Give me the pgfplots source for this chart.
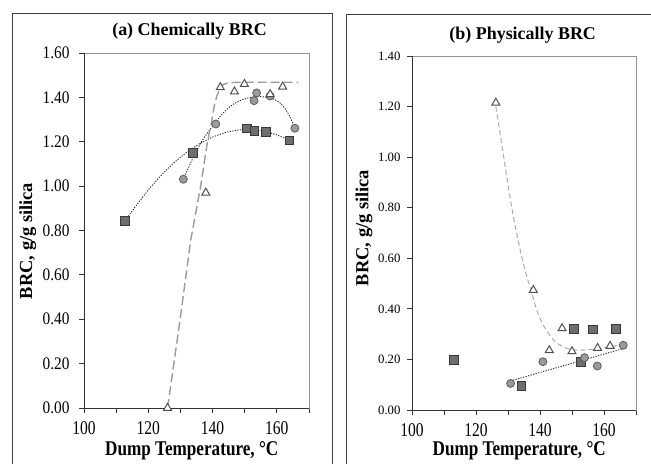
\documentclass[border=0pt]{standalone}
\usepackage{pgfplots}
\pgfplotsset{compat=1.18}
\usepackage{fontspec}
\setmainfont{Liberation Serif}
\newfontfamily\ytickA[FakeStretch=0.87]{Liberation Serif}
\newfontfamily\xtickf[FakeStretch=0.8]{Liberation Serif}
\newfontfamily\xlabf[FakeStretch=0.82]{Liberation Serif}
\definecolor{sqfill}{HTML}{6E6E6E}
\definecolor{sqedge}{HTML}{383838}
\definecolor{cifill}{HTML}{9A9A9A}
\definecolor{ciedge}{HTML}{5C5C5C}
\definecolor{triedge}{HTML}{505050}
\definecolor{dashc}{HTML}{9A9A9A}
\pgfplotsset{
  brc/.style={
    scale only axis, anchor=south west,
    xmin=100, xmax=170, ymin=0,
    xtick={100,120,140,160}, minor xtick={110,130,150,170},
    tick pos=left, tick align=outside,
    major tick length=5bp, minor tick length=5bp,
    axis line style={draw=gray!85, line width=0.8bp},
    tick style={black!80, line width=0.8bp},
    /pgf/number format/assume math mode=true,
    xticklabel style={font=\xtickf\fontsize{19.5}{20}\selectfont, yshift=-5.5bp},
    yticklabel style={/pgf/number format/fixed, /pgf/number format/fixed zerofill, /pgf/number format/precision=2},
    clip=false,
  },
  sq/.style={only marks, mark=square*, mark size=4.4bp, mark options={fill=sqfill, draw=sqedge, line width=0.8bp}},
  ci/.style={only marks, mark=*, mark size=4bp, mark options={fill=cifill, draw=ciedge, line width=0.8bp}},
  tri/.style={only marks, mark=triangle*, mark size=4.6bp, mark options={fill=white, draw=triedge, line width=1bp}},
  dotl/.style={no marks, black!85, line width=0.9bp, dash pattern=on 1.2bp off 1.4bp},
}
\begin{document}
\begin{tikzpicture}[x=1bp,y=1bp]
\useasboundingbox (0,0) rectangle (651,464);
\draw[black!75, line width=0.9bp] (12,-20) -- (12,451) -- (332,451) -- (332,-20);
\draw[black!75, line width=0.9bp] (346,-20) -- (346,450) -- (680,450);

% ---------- (a) ----------
\begin{axis}[brc, at={(84bp,56bp)}, width=225bp, height=355bp, ymax=1.6,
  ytick={0,0.2,0.4,0.6,0.8,1.0,1.2,1.4,1.6},
  yticklabel style={font=\ytickA\fontsize{17.7}{18}\selectfont, xshift=-6bp}]
\draw[black!80, line width=0.8bp] (rel axis cs:0,1) -- (rel axis cs:0,0) -- (rel axis cs:1,0);
\addplot[sq] coordinates {(112.8,0.845) (133.8,1.150) (150.8,1.260) (153.0,1.248) (156.7,1.244) (163.9,1.206)};
\addplot[ci] coordinates {(130.9,1.031) (141.0,1.280) (152.9,1.385) (153.7,1.420) (157.9,1.406) (165.6,1.261)};
\addplot[tri] coordinates {(126.0,0.000) (137.9,0.970) (142.4,1.445) (146.8,1.426) (149.9,1.460) (157.9,1.414) (161.8,1.448)};
\addplot[dotl] coordinates {(112.8,0.845) (116,0.908) (120,0.983) (124,1.049) (128,1.106) (132,1.153) (136,1.192) (140,1.221) (144,1.242) (148,1.253) (152,1.255) (156,1.248) (160,1.231) (164,1.206)};
\addplot[dotl, smooth] coordinates {(130.9,1.03) (134,1.13) (137,1.21) (140,1.27) (143,1.325) (146,1.365) (149,1.388) (152,1.40) (155,1.403) (158,1.397) (160,1.385) (162,1.36) (164,1.315) (165.6,1.262)};
\addplot[no marks, dashc, line width=1.4bp, dash pattern=on 9bp off 4bp] coordinates {(126,0) (130,0.41) (133.2,0.757) (136.3,1.0) (138.4,1.2) (139.7,1.29) (140.5,1.36) (141.3,1.405) (142.3,1.44) (143.3,1.458) (145,1.466) (148,1.468) (166.5,1.468)};
\end{axis}
\node[font=\bfseries\fontsize{18}{18}\selectfont, anchor=base] at (189.5,428) {(a) Chemically BRC};
\node[font=\bfseries\xlabf\fontsize{21}{21}\selectfont, anchor=base] at (191.7,8) {Dump Temperature, °C};
\node[font=\bfseries\fontsize{18.5}{18.5}\selectfont, anchor=base, rotate=90] at (32,223) {BRC, g/g silica};

% ---------- (b) ----------
\begin{axis}[brc, at={(412bp,54bp)}, width=224bp, height=354bp, ymax=1.4,
  ytick={0,0.2,0.4,0.6,0.8,1.0,1.2,1.4},
  yticklabel style={font=\fontsize{12.8}{13}\selectfont, xshift=-3bp}]
\draw[black!80, line width=0.8bp] (rel axis cs:0,1) -- (rel axis cs:0,0) -- (rel axis cs:1,0);
\addplot[sq] coordinates {(113.2,0.199) (134.2,0.096) (150.7,0.322) (152.8,0.189) (156.5,0.319) (163.75,0.322)};
\addplot[ci] coordinates {(130.8,0.105) (140.9,0.191) (153.9,0.207) (157.9,0.174) (166.0,0.256)};
\addplot[tri] coordinates {(126.2,1.215) (137.9,0.474) (142.9,0.236) (146.9,0.323) (150.0,0.232) (158.0,0.245) (161.9,0.253)};
\addplot[dotl] coordinates {(130.8,0.115) (166,0.243)};
\addplot[no marks, dashc!85, line width=1bp, dash pattern=on 5bp off 3bp, smooth] coordinates {(126.2,1.2) (128.0,1.055) (130.1,0.883) (131.7,0.764) (133.5,0.65) (135.3,0.554) (137.5,0.46) (139,0.395) (141,0.336) (144.2,0.277) (146.5,0.255) (148.3,0.244) (151.5,0.237) (155,0.238) (158.75,0.244) (162,0.25) (165,0.258)};
\end{axis}
\node[font=\bfseries\fontsize{18}{18}\selectfont, anchor=base] at (522.7,424) {(b) Physically BRC};
\node[font=\bfseries\xlabf\fontsize{21}{21}\selectfont, anchor=base] at (519.2,8) {Dump Temperature, °C};
\node[font=\bfseries\fontsize{18.5}{18.5}\selectfont, anchor=base, rotate=90] at (368.3,236) {BRC, g/g silica};
\end{tikzpicture}
\end{document}
